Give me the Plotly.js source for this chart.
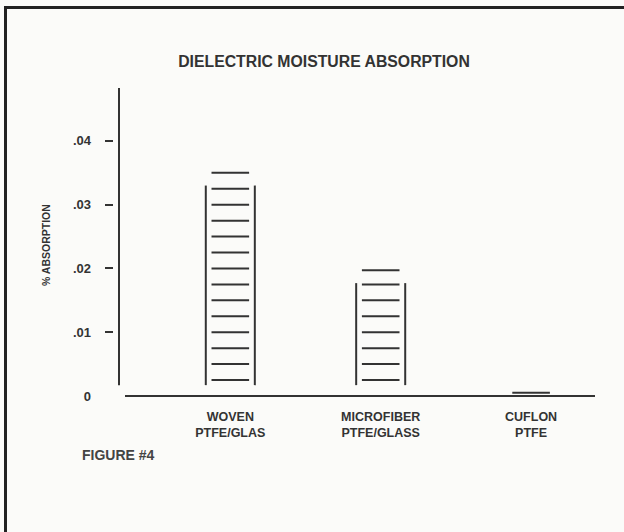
<!DOCTYPE html>
<html><head><meta charset="utf-8">
<script src="https://cdn.plot.ly/plotly-3.0.1.min.js"></script>
<style>
html,body{margin:0;padding:0;background:#ffffff;overflow:hidden;width:624px;height:532px;}
#chart{position:absolute;left:0;top:0;width:624px;height:532px;}
#bl{position:absolute;left:4px;top:6px;width:3px;height:526px;background:#222;pointer-events:none;}
#bt{position:absolute;left:4px;top:6px;width:620px;height:3px;background:#222;pointer-events:none;}
</style></head><body>
<div id="chart"></div><div id="bl"></div><div id="bt"></div>
<script>
// ---- data ----
const categories = ["WOVEN<br>PTFE/GLAS", "MICROFIBER<br>PTFE/GLASS", "CUFLON<br>PTFE"];
const categoryPos = [0, 1, 2];
const absorption = [0.035, 0.0197, 0.0005];
const yTickVals = [0, 0.01, 0.02, 0.03, 0.04];
const yTickText = ["0", ".01", ".02", ".03", ".04"];
const dashTickVals = [0.01, 0.02, 0.03, 0.04];

// ---- style ----
const ink = "#333333";
const rungStep = 0.0025;
const railHalf = 0.163, rungHalf = 0.125;

const rx = [], ry = [];
const cx = [], cy = [];
absorption.forEach((v, i) => {
  const p = categoryPos[i];
  // cap line at the value
  cx.push(p - rungHalf, p + rungHalf, null); cy.push(v, v, null);
  if (v > 2 * rungStep) {
    const top = v - 0.002, bot = 0.0017;
    rx.push(p - railHalf, p - railHalf, null, p + railHalf, p + railHalf, null);
    ry.push(bot, top, null, bot, top, null);
    for (let k = 1; k * rungStep < v - rungStep / 2; k++) {
      rx.push(p - rungHalf, p + rungHalf, null);
      ry.push(k * rungStep, k * rungStep, null);
    }
  }
});

const font = "Liberation Sans, Arial, Helvetica, sans-serif";
const traces = [
  {x: rx, y: ry, mode: "lines", line: {color: ink, width: 2}, hoverinfo: "skip", showlegend: false},
  {x: cx, y: cy, mode: "lines", line: {color: ink, width: 2}, hoverinfo: "skip", showlegend: false},
  {x: [null], y: [null], yaxis: "y2", mode: "lines", showlegend: false, hoverinfo: "skip"}
];

const W = 624, H = 532, L = 113, R = 32, T = 88, B = 135;
const pw = W - L - R;
const layout = {
  width: W, height: H,
  margin: {l: L, r: R, t: T, b: B},
  paper_bgcolor: "#fbfbf9", plot_bgcolor: "#fbfbf9",
  font: {family: font, color: ink},
  showlegend: false,
  title: {text: "<b>DIELECTRIC MOISTURE ABSORPTION</b>", font: {size: 15.8, color: ink, family: font},
          x: (324 - 0) / W, xanchor: "center", y: 1 - 61 / H, yanchor: "middle"},
  xaxis: {range: [-0.78, 2.405], showgrid: false, zeroline: false, showline: false,
          tickvals: categoryPos, ticktext: categories.map(c => "<b>" + c.replace("<br>", "</b><br><b>") + "</b>"),
          ticks: "", tickfont: {size: 12.5, color: ink, family: font}, ticklabelstandoff: 10, fixedrange: true},
  yaxis: {range: [-0.00016, 0.0483], showgrid: false, zeroline: false, showline: false,
          tickvals: yTickVals, ticktext: yTickText.map(t => "<b>" + t + "</b>"), ticks: "",
          tickfont: {size: 13, color: ink, family: font}, ticklabelstandoff: 21, fixedrange: true},
  yaxis2: {range: [-0.00016, 0.0483], overlaying: "y", anchor: "free", position: 0, side: "left",
           showgrid: false, zeroline: false, showline: false, tickvals: dashTickVals,
           showticklabels: false, ticks: "outside", ticklen: 8, tickwidth: 2, tickcolor: ink, fixedrange: true},
  shapes: [
    {type: "line", xref: "paper", yref: "y", x0: 6 / pw, x1: 6 / pw, y0: 0.0017, y1: 0.0483, line: {color: ink, width: 2}},
    {type: "line", xref: "paper", yref: "y", x0: 12 / pw, x1: (595 - L) / pw, y0: 0, y1: 0, line: {color: ink, width: 2}}
  ],
  annotations: [
    {text: "<b>% ABSORPTION</b>", xref: "paper", yref: "paper", x: (46 - L) / pw, y: (H - B - 245) / (H - T - B),
     textangle: -90, showarrow: false, xanchor: "center", yanchor: "middle", font: {size: 10.5, color: ink, family: font}},
    {text: "<b>FIGURE #4</b>", xref: "paper", yref: "paper", x: (80 - L) / pw, y: (H - B - 455) / (H - T - B),
     showarrow: false, xanchor: "left", yanchor: "middle", font: {size: 14, color: "#444", family: font}}
  ]
};
Plotly.newPlot("chart", traces, layout, {displayModeBar: false, staticPlot: true});
</script>
</body></html>
